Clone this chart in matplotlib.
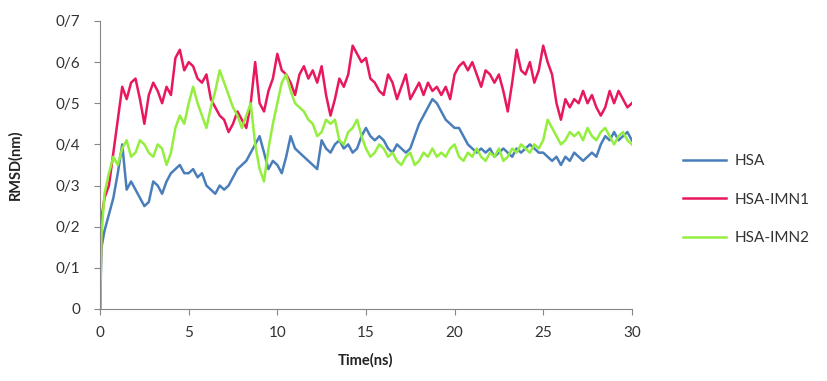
import numpy as np
import matplotlib
matplotlib.use('Agg')
import matplotlib.pyplot as plt

plt.rcParams['font.family'] = ['Lato', 'DejaVu Sans']

# time grid (ns)
time_ns = np.concatenate([[0, 0.08], np.arange(0.25, 30.01, 0.25)])

# RMSD values (nm)
hsa = [0, 0.15,
       0.19, 0.23, 0.27, 0.33, 0.40, 0.29, 0.31, 0.29,
       0.27, 0.25, 0.26, 0.31, 0.30, 0.28, 0.31, 0.33,
       0.34, 0.35, 0.33, 0.33, 0.34, 0.32, 0.33, 0.30,
       0.29, 0.28, 0.30, 0.29, 0.30, 0.32, 0.34, 0.35,
       0.36, 0.38, 0.40, 0.42, 0.38, 0.34, 0.36, 0.35,
       0.33, 0.37, 0.42, 0.39, 0.38, 0.37, 0.36, 0.35,
       0.34, 0.41, 0.39, 0.38, 0.40, 0.41, 0.39, 0.40,
       0.38, 0.39, 0.42, 0.44, 0.42, 0.41, 0.42, 0.41,
       0.39, 0.38, 0.40, 0.39, 0.38, 0.39, 0.42, 0.45,
       0.47, 0.49, 0.51, 0.50, 0.48, 0.46, 0.45, 0.44,
       0.44, 0.42, 0.40, 0.39, 0.38, 0.39, 0.38, 0.39,
       0.37, 0.38, 0.39, 0.38, 0.37, 0.39, 0.38, 0.39,
       0.40, 0.39, 0.38, 0.38, 0.37, 0.36, 0.37, 0.35,
       0.37, 0.36, 0.38, 0.37, 0.36, 0.37, 0.38, 0.37,
       0.40, 0.42, 0.41, 0.43, 0.41, 0.42, 0.43, 0.41]

hsa_imn1 = [0, 0.22,
            0.27, 0.30, 0.38, 0.46, 0.54, 0.51, 0.55, 0.56,
            0.51, 0.45, 0.52, 0.55, 0.53, 0.50, 0.54, 0.52,
            0.61, 0.63, 0.58, 0.60, 0.59, 0.56, 0.55, 0.57,
            0.51, 0.49, 0.47, 0.46, 0.43, 0.45, 0.48, 0.46,
            0.44, 0.50, 0.60, 0.50, 0.48, 0.53, 0.56, 0.62,
            0.58, 0.57, 0.55, 0.52, 0.57, 0.59, 0.56, 0.58,
            0.55, 0.59, 0.52, 0.47, 0.51, 0.56, 0.54, 0.57,
            0.64, 0.62, 0.60, 0.61, 0.56, 0.55, 0.53, 0.52,
            0.57, 0.55, 0.51, 0.54, 0.57, 0.51, 0.53, 0.55,
            0.52, 0.55, 0.53, 0.54, 0.52, 0.54, 0.51, 0.57,
            0.59, 0.60, 0.58, 0.60, 0.57, 0.54, 0.58, 0.57,
            0.55, 0.57, 0.53, 0.48, 0.55, 0.63, 0.58, 0.57,
            0.60, 0.55, 0.58, 0.64, 0.60, 0.57, 0.50, 0.46,
            0.51, 0.49, 0.51, 0.50, 0.53, 0.50, 0.52, 0.49,
            0.47, 0.49, 0.53, 0.50, 0.53, 0.51, 0.49, 0.50]

hsa_imn2 = [0, 0.18,
            0.28, 0.33, 0.37, 0.35, 0.39, 0.41, 0.37, 0.38,
            0.41, 0.40, 0.38, 0.37, 0.40, 0.39, 0.35, 0.38,
            0.44, 0.47, 0.45, 0.50, 0.54, 0.50, 0.47, 0.44,
            0.49, 0.53, 0.58, 0.55, 0.52, 0.49, 0.47, 0.44,
            0.47, 0.50, 0.40, 0.34, 0.31, 0.39, 0.45, 0.50,
            0.55, 0.57, 0.53, 0.50, 0.49, 0.48, 0.46, 0.45,
            0.42, 0.43, 0.46, 0.45, 0.46, 0.41, 0.40, 0.43,
            0.44, 0.46, 0.42, 0.39, 0.37, 0.38, 0.40, 0.39,
            0.37, 0.38, 0.36, 0.35, 0.37, 0.38, 0.35, 0.36,
            0.38, 0.37, 0.39, 0.37, 0.38, 0.37, 0.39, 0.40,
            0.37, 0.36, 0.38, 0.37, 0.39, 0.37, 0.36, 0.38,
            0.37, 0.39, 0.36, 0.37, 0.39, 0.38, 0.40, 0.39,
            0.38, 0.40, 0.39, 0.41, 0.46, 0.44, 0.42, 0.40,
            0.41, 0.43, 0.42, 0.43, 0.41, 0.44, 0.42, 0.41,
            0.43, 0.44, 0.42, 0.40, 0.42, 0.43, 0.41, 0.40]

series_names = ['HSA', 'HSA-IMN1', 'HSA-IMN2']
series_colors = ['#4a7ebb', '#e8185c', '#94ee3e']

y_ticks = [0, 0.1, 0.2, 0.3, 0.4, 0.5, 0.6, 0.7]
y_tick_labels = ['0', '0/1', '0/2', '0/3', '0/4', '0/5', '0/6', '0/7']
x_ticks = [0, 5, 10, 15, 20, 25, 30]

fig = plt.figure(figsize=(8.27, 3.81), dpi=100)
ax = fig.add_axes([0.121, 0.189, 0.643, 0.756])

for vals, name, col in zip([hsa, hsa_imn1, hsa_imn2], series_names, series_colors):
    ax.plot(time_ns, vals, color=col, lw=1.8, label=name)

ax.set_xlim(0, 30)
ax.set_ylim(0, 0.7)
ax.set_xticks(x_ticks)
ax.set_yticks(y_ticks)
ax.set_yticklabels(y_tick_labels)

for s in ['top', 'right']:
    ax.spines[s].set_visible(False)
for s in ['left', 'bottom']:
    ax.spines[s].set_color('#868686')
ax.tick_params(colors='#868686', labelcolor='#333333', labelsize=11, length=4, direction='out')
ax.tick_params(axis='y', pad=10)
ax.tick_params(axis='x', pad=8)

ax.set_xlabel('Time(ns)', fontsize=10.5, fontweight='bold', color='#222222', labelpad=10)
ax.set_ylabel('RMSD(nm)', fontsize=10.5, fontweight='bold', color='#222222', labelpad=24)

leg = ax.legend(loc='center left', bbox_to_anchor=(1.07, 0.38), frameon=False,
                fontsize=11, handlelength=2.8, labelspacing=1.6, handletextpad=0.6)
for t in leg.get_texts():
    t.set_color('#333333')

fig.savefig('out.png', dpi=100)
